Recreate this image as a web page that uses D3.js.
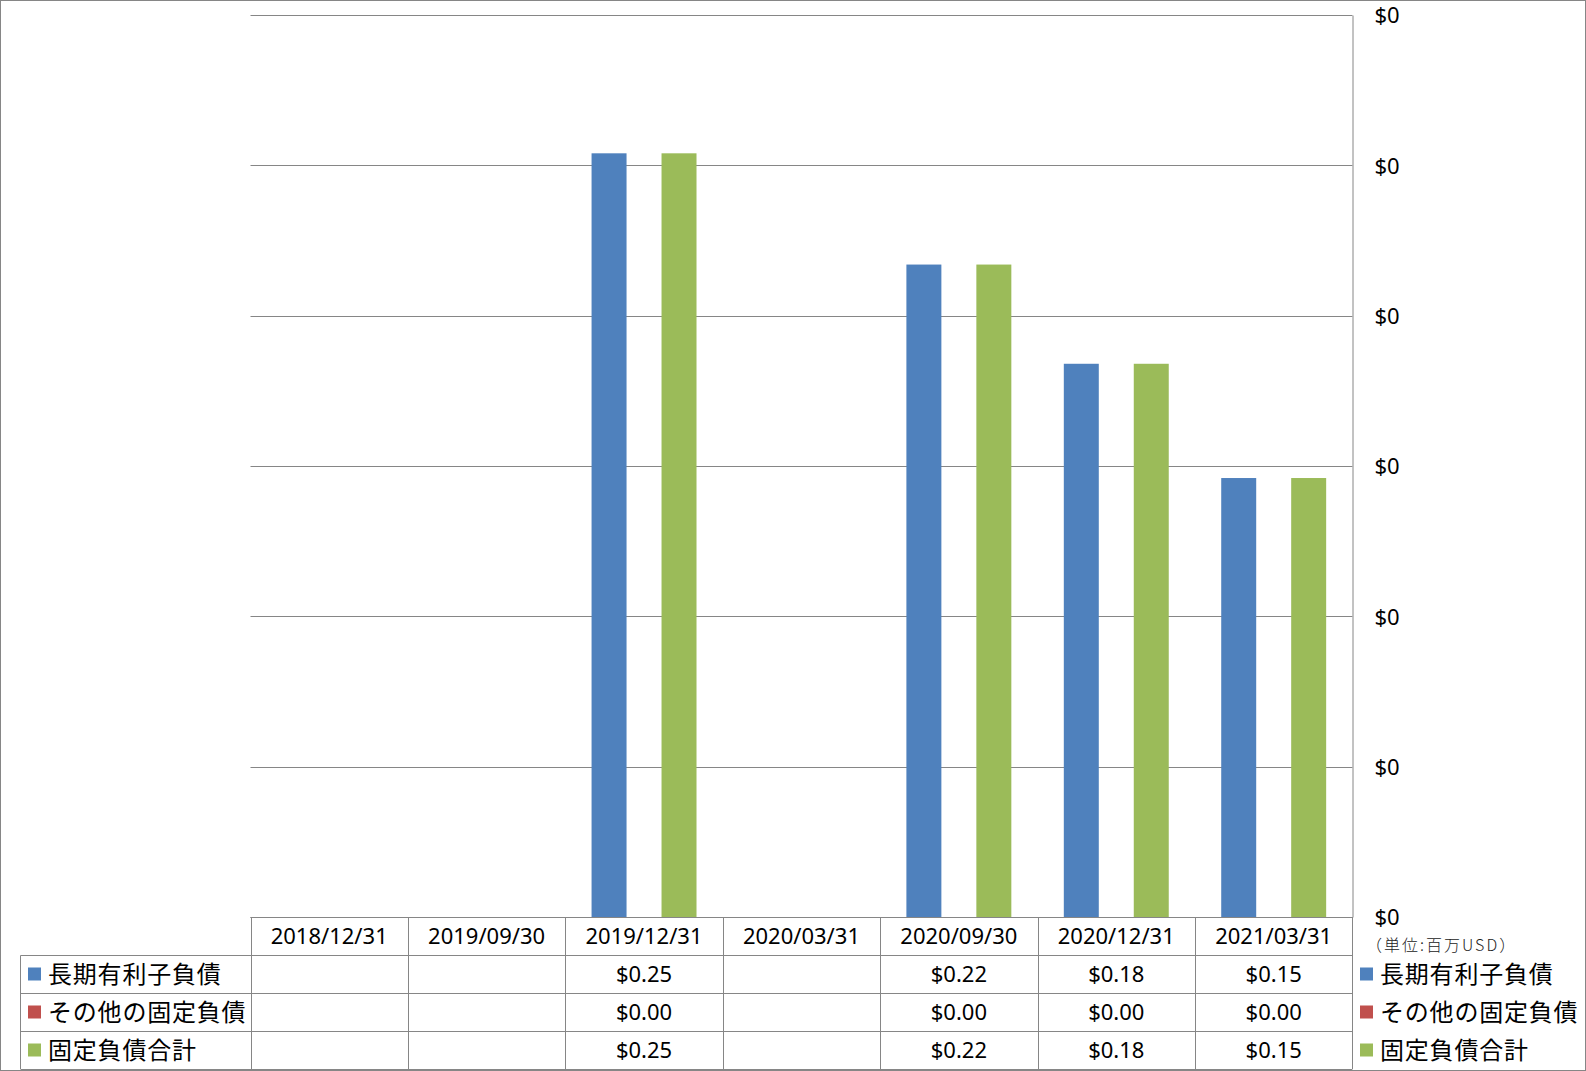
<!DOCTYPE html>
<html>
<head>
<meta charset="utf-8">
<script src="https://cdn.jsdelivr.net/npm/d3@7"></script>
<style>
  body { margin: 0; background: #fff; }
  svg { display: block; }
</style>
</head>
<body>
<div id="chart"></div>
<script>
// data
var categories = ["2018/12/31", "2019/09/30", "2019/12/31", "2020/03/31", "2020/09/30", "2020/12/31", "2021/03/31"];
var seriesNames = ["長期有利子負債", "その他の固定負債", "固定負債合計"];
var longTermDebt = [null, null, 0.254, null, 0.217, 0.184, 0.146];
var otherFixed = [null, null, 0, null, 0, 0, 0];
var fixedTotal = [null, null, 0.254, null, 0.217, 0.184, 0.146];
var yTicks = [0, 0.05, 0.10, 0.15, 0.20, 0.25, 0.30];
var unitLabel = "（単位:百万USD）";

var colors = ["#4F81BD", "#C0504D", "#9BBB59"];
var seriesValues = [longTermDebt, otherFixed, fixedTotal];

var W = 1586, H = 1071;
var plot = { left: 250.5, right: 1352.4, top: 15, bottom: 917 };
var rowH = 38;
var grid = "#868686";
var latin = "'Noto Sans', 'Open Sans', sans-serif";
var cjk = "'Noto Sans CJK JP', 'Noto Sans', sans-serif";

var svg = d3.select("#chart").append("svg")
    .attr("width", W)
    .attr("height", H);

// outer frame
svg.append("rect")
    .attr("x", 0.5).attr("y", 0.5)
    .attr("width", W - 1).attr("height", H - 1)
    .attr("fill", "#fff")
    .attr("stroke", grid);

var x = d3.scaleBand()
    .domain(categories)
    .range([plot.left, plot.right]);

var barW = x.bandwidth() / 4.5;
var xs = d3.scaleBand()
    .domain(d3.range(seriesNames.length))
    .range([0.75 * barW, 3.75 * barW]);

var y = d3.scaleLinear()
    .domain([0, 0.30])
    .range([plot.bottom, plot.top]);

// gridlines
svg.append("g")
    .selectAll("line")
    .data(yTicks)
    .enter().append("line")
    .attr("x1", plot.left).attr("x2", plot.right)
    .attr("y1", function (d) { return Math.round(y(d)) + 0.5; })
    .attr("y2", function (d) { return Math.round(y(d)) + 0.5; })
    .attr("stroke", grid);

// right axis
var yAxis = d3.axisRight(y)
    .tickValues(yTicks)
    .tickSize(0)
    .tickPadding(22)
    .tickFormat(d3.format("$,.0f"));

var gy = svg.append("g")
    .attr("transform", "translate(" + (Math.round(plot.right) + 0.5) + ",0)")
    .call(yAxis);
gy.select(".domain").attr("stroke", grid);
gy.selectAll("text")
    .attr("font-family", latin)
    .attr("font-size", 22)
    .attr("fill", "#000")
    .attr("dy", "0.36em");

// bars
seriesValues.forEach(function (vals, si) {
    svg.append("g")
        .selectAll("rect")
        .data(categories.map(function (c, i) { return { cat: c, v: vals[i] }; })
            .filter(function (d) { return d.v !== null && d.v > 0; }))
        .enter().append("rect")
        .attr("x", function (d) { return x(d.cat) + xs(si); })
        .attr("width", xs.bandwidth())
        .attr("y", function (d) { return y(d.v); })
        .attr("height", function (d) { return y(0) - y(d.v); })
        .attr("fill", colors[si]);
});

// data table
var table = svg.append("g");
var legendLeft = 20.5;
var tBottom = plot.bottom + rowH * 4;

function hline(x1, x2, yy) {
    table.append("line")
        .attr("x1", x1).attr("x2", x2)
        .attr("y1", yy).attr("y2", yy)
        .attr("stroke", grid);
}
function vline(xx, y1, y2) {
    table.append("line")
        .attr("x1", xx).attr("x2", xx)
        .attr("y1", y1).attr("y2", y2)
        .attr("stroke", grid);
}

hline(plot.left, plot.right, Math.round(plot.bottom) + 0.5);
for (var r = 1; r <= 4; r++) {
    hline(legendLeft, plot.right, Math.round(plot.bottom + rowH * r) + 0.5);
}
vline(legendLeft, Math.round(plot.bottom + rowH) + 0.5, tBottom);
categories.forEach(function (c) {
    vline(Math.round(x(c)) + 0.5, plot.bottom, tBottom);
});
vline(Math.round(plot.right) + 0.5, plot.bottom, tBottom);

// header
table.selectAll(".hdr")
    .data(categories)
    .enter().append("text")
    .attr("class", "hdr")
    .attr("x", function (d) { return x(d) + x.bandwidth() / 2; })
    .attr("y", plot.bottom + rowH / 2)
    .attr("dy", "0.36em")
    .attr("text-anchor", "middle")
    .attr("font-family", latin)
    .attr("font-size", 22)
    .text(function (d) { return d; });

var fmt = function (v) { return "$" + v.toFixed(2); };

seriesValues.forEach(function (vals, si) {
    var cy = plot.bottom + rowH * (si + 1) + rowH / 2;
    table.append("rect")
        .attr("x", 28).attr("y", cy - 6.5)
        .attr("width", 13).attr("height", 13)
        .attr("fill", colors[si]);
    table.append("text")
        .attr("x", 48).attr("y", cy)
        .attr("dy", "0.36em")
        .attr("font-family", cjk)
        .attr("font-size", 24)
        .attr("letter-spacing", 0.8)
        .text(seriesNames[si]);
    table.append("g").selectAll("text")
        .data(categories.map(function (c, i) { return { cat: c, v: vals[i] }; })
            .filter(function (d) { return d.v !== null; }))
        .enter().append("text")
        .attr("x", function (d) { return x(d.cat) + x.bandwidth() / 2; })
        .attr("y", cy)
        .attr("dy", "0.36em")
        .attr("text-anchor", "middle")
        .attr("font-family", latin)
        .attr("font-size", 22)
        .text(function (d) { return fmt(d.v); });

    // right legend
    svg.append("rect")
        .attr("x", 1360).attr("y", cy - 6.5)
        .attr("width", 13).attr("height", 13)
        .attr("fill", colors[si]);
    svg.append("text")
        .attr("x", 1380).attr("y", cy)
        .attr("dy", "0.36em")
        .attr("font-family", cjk)
        .attr("font-size", 24)
        .attr("letter-spacing", 0.8)
        .text(seriesNames[si]);
});

svg.append("text")
    .attr("x", 1366).attr("y", 945)
    .attr("dy", "0.36em")
    .attr("font-family", cjk)
    .attr("font-size", 16)
    .attr("font-weight", 300)
    .attr("letter-spacing", 2)
    .attr("fill", "#222")
    .text(unitLabel);
</script>
</body>
</html>
